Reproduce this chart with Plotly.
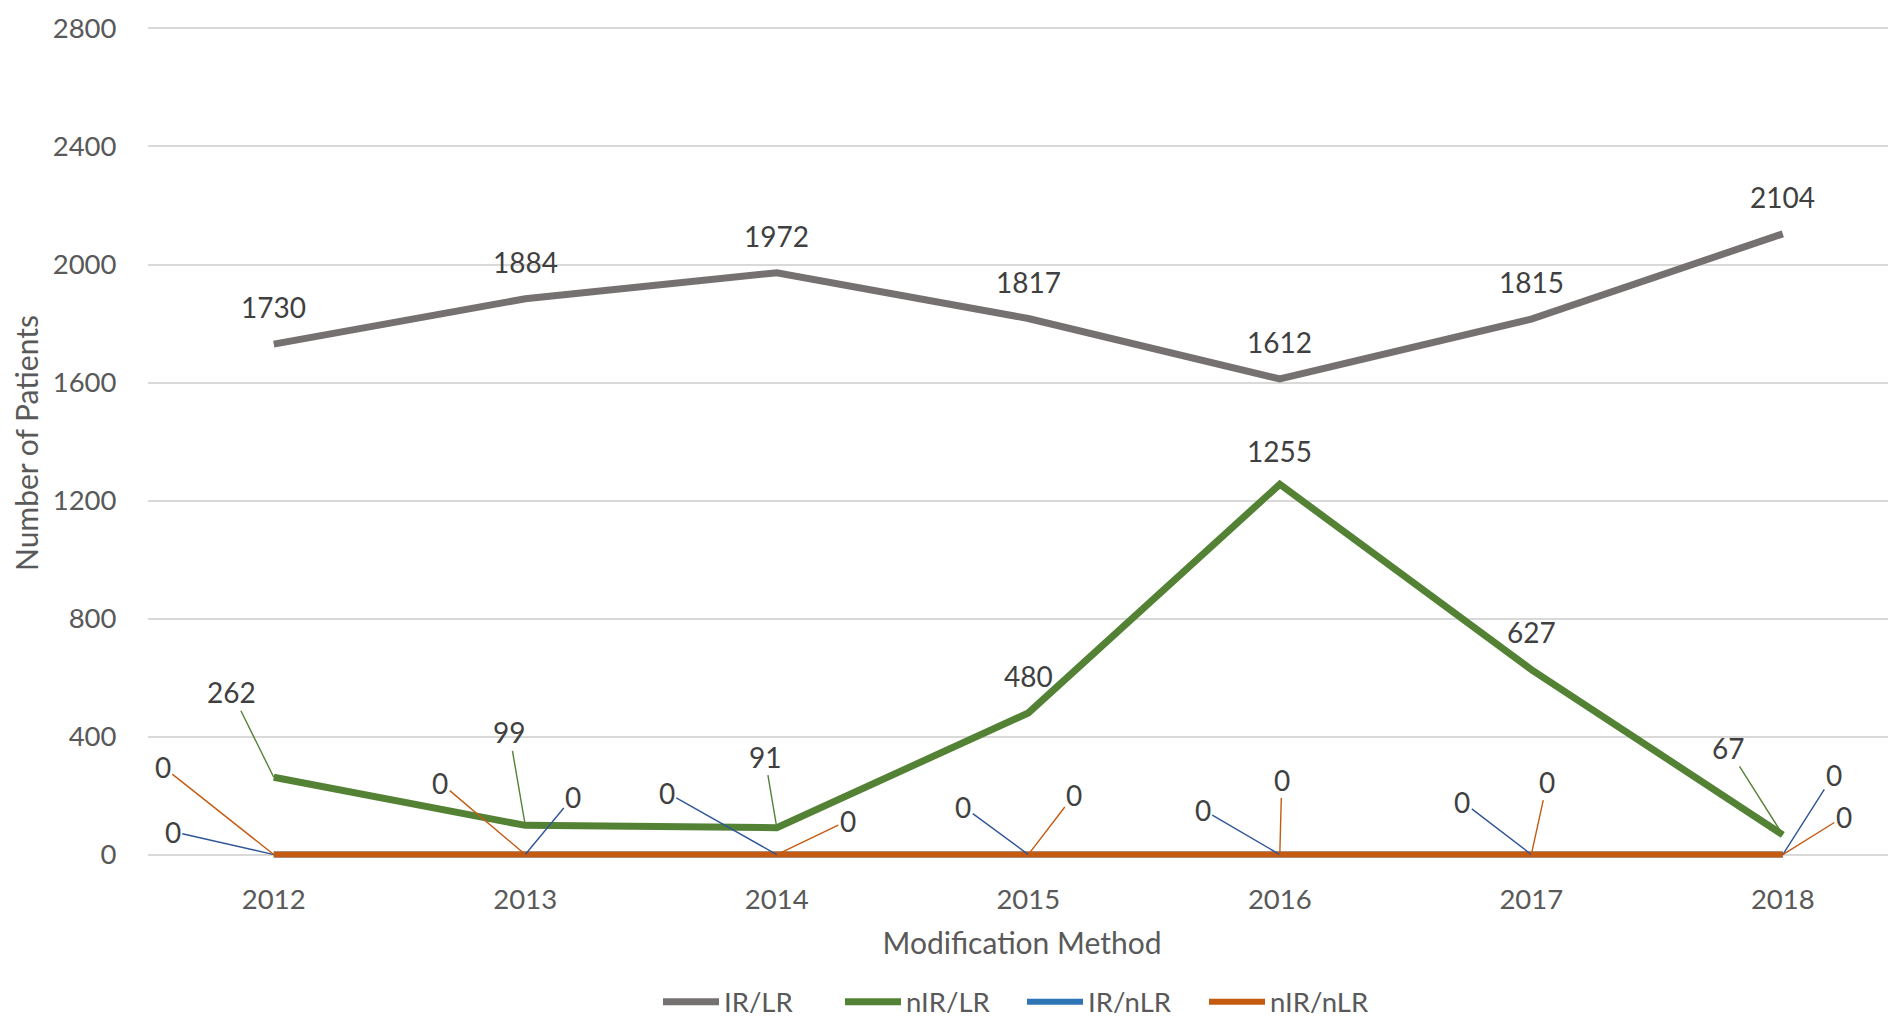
import math
import plotly.graph_objects as go

years = [2012, 2013, 2014, 2015, 2016, 2017, 2018]
series_names = ["IR/LR", "nIR/LR", "IR/nLR", "nIR/nLR"]
ir_lr = [1730, 1884, 1972, 1817, 1612, 1815, 2104]
nir_lr = [262, 99, 91, 480, 1255, 627, 67]
ir_nlr = [0, 0, 0, 0, 0, 0, 0]
nir_nlr = [0, 0, 0, 0, 0, 0, 0]
y_ticks = [0, 400, 800, 1200, 1600, 2000, 2400, 2800]

series_values = [ir_lr, nir_lr, ir_nlr, nir_nlr]
colors = ["#767171", "#548235", "#2E75B6", "#C55A11"]
leader_colors = ["#767171", "#548235", "#2F5597", "#C55A11"]
widths = [7, 7, 6, 6]

# label offsets in pixels (dx, dy) relative to the data point (styling, not data)
label_offsets = [
    [(0, -37), (0, -37), (0, -37), (0, -37), (0, -37), (0, -37), (0, -37)],
    [(-42, -85), (-16, -93), (-12, -71), (0, -37), (0, -33), (0, -38), (-55, -87)],
    [(-101, -23), (48, -58), (-110, -62), (-65, -48), (-77, -45), (-69, -53), (51, -80)],
    [(-111, -88), (-85, -72), (71, -34), (46, -60), (2, -75), (16, -73), (61, -38)],
]

FONT = "Lato, 'Open Sans', sans-serif"
TICK_COLOR = "#595959"
LABEL_COLOR = "#404040"

fig = go.Figure()
for name, vals, col, w in zip(series_names, series_values, colors, widths):
    fig.add_trace(go.Scatter(
        x=years, y=vals, name=name, mode="lines",
        line=dict(color=col, width=w, shape="linear"),
        hoverinfo="x+y+name",
    ))

annotations = []
for vals, offs, lcol in zip(series_values, label_offsets, leader_colors):
    for x, v, (dx, dy) in zip(years, vals, offs):
        dist = math.hypot(dx, dy)
        if dist > 45:
            annotations.append(dict(
                x=x, y=v, xref="x", yref="y", text=str(v),
                showarrow=True, arrowhead=0, arrowwidth=1.4, arrowcolor=lcol,
                ax=dx, ay=dy, axref="pixel", ayref="pixel", standoff=0,
                font=dict(family=FONT, size=28, color=LABEL_COLOR),
            ))
        else:
            annotations.append(dict(
                x=x, y=v, xref="x", yref="y", text=str(v),
                showarrow=False, xshift=dx, yshift=-dy,
                font=dict(family=FONT, size=28, color=LABEL_COLOR),
            ))

fig.update_layout(
    width=1888, height=1010,
    margin=dict(l=140, r=0, t=18.5, b=158.6, pad=0),
    paper_bgcolor="white", plot_bgcolor="white",
    font=dict(family=FONT, size=27, color=TICK_COLOR),
    showlegend=True,
    legend=dict(
        orientation="h", x=0.5, xanchor="center",
        y=0.016, yanchor="middle", yref="container",
        font=dict(family=FONT, size=27.5, color=TICK_COLOR),
        itemwidth=56, tracegroupgap=0,
        entrywidth=111, entrywidthmode="pixels",
    ),
    annotations=annotations,
    xaxis=dict(
        range=[2011.5, 2018.45], tickmode="array", tickvals=years,
        ticktext=[str(y) for y in years],
        showgrid=False, zeroline=False, showline=False,
        ticks="outside", ticklen=0, tickcolor="white",
        ticklabelstandoff=16,
        tickfont=dict(family=FONT, size=27.5, color=TICK_COLOR),
        title=dict(text="Modification Method", standoff=18,
                   font=dict(family=FONT, size=30, color=TICK_COLOR)),
    ),
    yaxis=dict(
        range=[-15, 2805], tickmode="array", tickvals=y_ticks,
        showgrid=True, gridcolor="#D9D9D9", gridwidth=1.5,
        zeroline=False, showline=False,
        ticks="outside", ticklen=0, tickcolor="white",
        ticklabelstandoff=25,
        tickfont=dict(family=FONT, size=27.5, color=TICK_COLOR),
        title=dict(text="Number of Patients", standoff=8,
                   font=dict(family=FONT, size=30, color=TICK_COLOR)),
    ),
)

fig.write_html("out.html")
